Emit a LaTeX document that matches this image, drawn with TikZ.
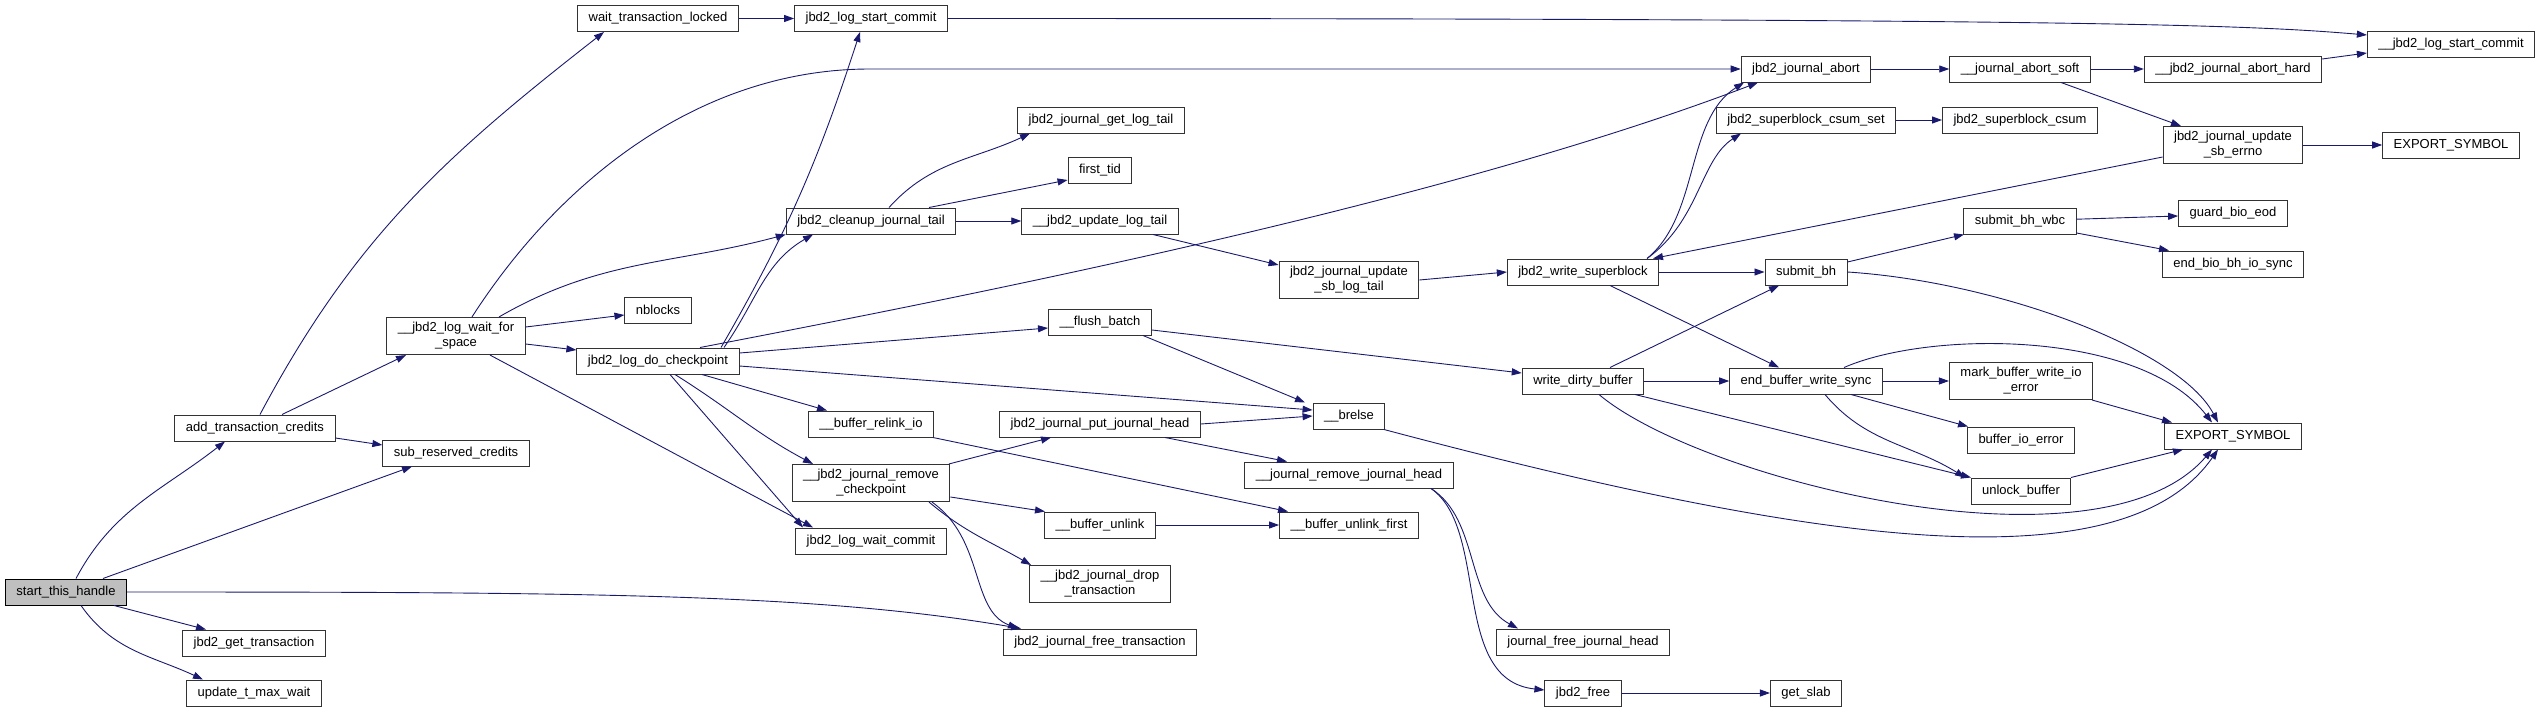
\documentclass[tikz,border=0pt]{standalone}
\usepackage{fontspec}
\setmainfont{Liberation Sans}
\usetikzlibrary{arrows.meta}
\definecolor{edgeblue}{HTML}{191970}

\begin{document}
\begin{tikzpicture}[
x=1pt, y=1pt,
every node/.style={
draw=black!80,
line width=1pt,
fill=white,
align=center,
inner xsep=11pt,
inner ysep=5pt,
minimum height=26pt,
font=\fontsize{13}{15}\selectfont
},
root/.style={fill=black!25, draw=black},
>={Triangle[length=10pt,width=7pt]},
call/.style={->, draw=edgeblue, line width=0.9pt}
]

\useasboundingbox (0,0) rectangle (2540,-712);

\node[root] (Sth) at (66,-592) {start\_this\_handle};

\node (Atc) at (255,-428) {add\_transaction\_credits};
\node (Gtr) at (254,-643) {jbd2\_get\_transaction};
\node (Utm) at (254,-693) {update\_t\_max\_wait};

\node (Wfs) at (456,-336) {\_\_jbd2\_log\_wait\_for\\\_space};
\node (Src) at (456,-453) {sub\_reserved\_credits};

\node (Wtl) at (658,-18.5) {wait\_transaction\_locked};
\node (Nbl) at (658,-310) {nblocks};
\node (Dck) at (658,-361) {jbd2\_log\_do\_checkpoint};

\node (Lsc) at (871,-18.5) {jbd2\_log\_start\_commit};
\node (Cjt) at (871,-221) {jbd2\_cleanup\_journal\_tail};
\node (Rio) at (871,-424) {\_\_buffer\_relink\_io};
\node (Rck) at (871,-483) {\_\_jbd2\_journal\_remove\\\_checkpoint};
\node (Lwc) at (871,-541) {jbd2\_log\_wait\_commit};

\node (Glt) at (1101,-120) {jbd2\_journal\_get\_log\_tail};
\node (Ftd) at (1100,-170) {first\_tid};
\node (Ult) at (1100,-221) {\_\_jbd2\_update\_log\_tail};
\node (Fb) at (1100,-322) {\_\_flush\_batch};
\node (Pjh) at (1100,-424) {jbd2\_journal\_put\_journal\_head};
\node (Bu) at (1100,-525) {\_\_buffer\_unlink};
\node (Dtr) at (1100,-584) {\_\_jbd2\_journal\_drop\\\_transaction};
\node (Ftr) at (1100,-642) {jbd2\_journal\_free\_transaction};

\node (Usl) at (1349,-280) {jbd2\_journal\_update\\\_sb\_log\_tail};
\node (Br) at (1349,-416) {\_\_brelse};
\node (Rjh) at (1349,-475) {\_\_journal\_remove\_journal\_head};
\node (Buf) at (1349,-525) {\_\_buffer\_unlink\_first};

\node (Ws) at (1583,-272) {jbd2\_write\_superblock};
\node (Wdb) at (1583,-381) {write\_dirty\_buffer};
\node (Fjh) at (1583,-642) {journal\_free\_journal\_head};
\node (Jf) at (1583,-693) {jbd2\_free};

\node (Ab) at (1806,-69) {jbd2\_journal\_abort};
\node (Css) at (1806,-120) {jbd2\_superblock\_csum\_set};
\node (Sb) at (1806,-272) {submit\_bh};
\node (Ebw) at (1806,-381) {end\_buffer\_write\_sync};
\node (Gs) at (1806,-693) {get\_slab};

\node (Ats) at (2020,-69) {\_\_journal\_abort\_soft};
\node (Csm) at (2020,-120) {jbd2\_superblock\_csum};
\node (Sbw) at (2020,-221) {submit\_bh\_wbc};
\node (Mbw) at (2021,-381) {mark\_buffer\_write\_io\\\_error};
\node (Bie) at (2021,-440) {buffer\_io\_error};
\node (Ub) at (2021,-491) {unlock\_buffer};

\node (Ath) at (2233,-69) {\_\_jbd2\_journal\_abort\_hard};
\node (Use) at (2233,-145) {jbd2\_journal\_update\\\_sb\_errno};
\node (Gbe) at (2233,-213) {guard\_bio\_eod};
\node (Ebb) at (2233,-264) {end\_bio\_bh\_io\_sync};
\node (Ex2) at (2233,-436) {EXPORT\_SYMBOL};

\node (Ls2) at (2451,-44) {\_\_jbd2\_log\_start\_commit};
\node (Ex1) at (2451,-145) {EXPORT\_SYMBOL};

\draw[call] ([xshift=10]Sth.north) to[out=62,in=218] ([xshift=-30]Atc.south);
\draw[call] ([xshift=37]Sth.north) -- ([xshift=-44]Src.south);
\draw[call] ([xshift=48]Sth.south) -- ([xshift=-48]Gtr.north);
\draw[call] ([xshift=15]Sth.south) to[out=-55,in=155] ([xshift=-51]Utm.north);
\draw[call] (Sth.east) .. controls (600,-592) and (820,-594) .. ([xshift=-79]Ftr.north);

\draw[call] ([xshift=5]Atc.north) to[out=62,in=218] ([xshift=-54]Wtl.south);
\draw[call] ([xshift=27]Atc.north) -- ([xshift=-50]Wfs.south);
\draw[call] ([yshift=-10]Atc.east) -- ([yshift=8]Src.west);

\draw[call] (Wtl) -- (Lsc);

\draw[call] ([xshift=16]Wfs.north) .. controls (560,-180) and (700,-69) .. (870,-69) -- (Ab.west);
\draw[call] ([xshift=43]Wfs.north) to[out=30,in=195] (Cjt.south west);
\draw[call] ([yshift=9]Wfs.east) -- ([yshift=-5]Nbl.west);
\draw[call] ([yshift=-8]Wfs.east) -- ([yshift=11]Dck.west);
\draw[call] ([xshift=34]Wfs.south) -- ([xshift=-58]Lwc.north);

\draw[call] ([xshift=63]Dck.north) to[out=60,in=-108] ([xshift=-11]Lsc.south);
\draw[call] ([xshift=66]Dck.north) to[out=55,in=-150] ([xshift=-58]Cjt.south);
\draw[call] ([xshift=42]Dck.north) .. controls (1000,-290) and (1450,-200) .. ([xshift=-48]Ab.south);
\draw[call] ([yshift=8]Dck.east) -- ([yshift=-6]Fb.west);
\draw[call] ([yshift=-5]Dck.east) -- ([yshift=6]Br.west);
\draw[call] ([xshift=44]Dck.south) -- ([xshift=-44]Rio.north);
\draw[call] ([xshift=17]Dck.south) to[out=-32,in=152] ([xshift=-58]Rck.north);
\draw[call] ([xshift=12]Dck.south) -- ([xshift=-68]Lwc.north);

\draw[call] ([xshift=18]Cjt.north) to[out=48,in=-155] ([xshift=-71]Glt.south);
\draw[call] ([xshift=58]Cjt.north) -- ([yshift=-10]Ftd.west);
\draw[call] (Cjt) -- (Ult);
\draw[call] ([xshift=53]Ult.south) -- ([yshift=15]Usl.west);
\draw[call] (Usl.east) -- (Ws.west);

\draw[call] ([xshift=64]Ws.north) .. controls (1700,-215) and (1685,-120) .. ([xshift=-62]Ab.south);
\draw[call] ([xshift=64]Ws.north) .. controls (1700,-220) and (1700,-160) .. ([xshift=-65]Css.south);
\draw[call] (Ws) -- (Sb);
\draw[call] ([xshift=27]Ws.south) -- ([xshift=-27]Ebw.north);

\draw[call] ([yshift=-8]Fb.east) -- ([yshift=8]Wdb.west);
\draw[call] ([xshift=43]Fb.south) -- ([xshift=-44]Br.north);

\draw[call] ([xshift=27]Wdb.north) -- ([xshift=-27]Sb.south);
\draw[call] (Wdb) -- (Ebw);
\draw[call] ([xshift=52]Wdb.south) -- ([xshift=-50]Ub.north);
\draw[call] ([xshift=16]Wdb.south) .. controls (1700,-480) and (2100,-580) .. ([xshift=-21]Ex2.south);

\draw[call] ([yshift=10]Sb.east) -- ([xshift=-56]Sbw.south);
\draw[call] (Sb.east) .. controls (2000,-282) and (2180,-350) .. ([xshift=-15]Ex2.north);
\draw[call] (Sbw) -- ([yshift=-3]Gbe.west);
\draw[call] ([yshift=-12]Sbw.east) -- ([xshift=-64]Ebb.north);

\draw[call] (Ebw) -- (Mbw);
\draw[call] ([xshift=45]Ebw.south) -- ([xshift=-53]Bie.north);
\draw[call] ([xshift=19]Ebw.south) to[out=-50,in=148] ([xshift=-56]Ub.north);
\draw[call] ([xshift=38]Ebw.north) .. controls (1930,-330) and (2140,-330) .. ([xshift=-21]Ex2.north);
\draw[call] ([xshift=71]Mbw.south) -- ([xshift=-61]Ex2.north);
\draw[call] ([xshift=50]Ub.north) -- ([xshift=-50]Ex2.south);

\draw[call] ([xshift=35]Br.south) .. controls (1800,-540) and (2120,-590) .. ([xshift=-15]Ex2.south);

\draw[call] (Ab) -- (Ats);
\draw[call] (Ats) -- (Ath);
\draw[call] ([xshift=41]Ats.south) -- ([xshift=-52]Use.north);
\draw[call] ([yshift=10]Ath.east) -- ([yshift=-9]Ls2.west);
\draw[call] (Lsc.east) .. controls (2100,-18.5) and (2250,-25) .. ([yshift=9]Ls2.west);
\draw[call] (Use) -- (Ex1);
\draw[call] ([yshift=-12]Use.west) -- ([xshift=70]Ws.north);
\draw[call] (Css) -- (Csm);

\draw[call] (Pjh.east) -- (Br.west);
\draw[call] ([xshift=65]Pjh.south) -- ([xshift=-62]Rjh.north);
\draw[call] ([xshift=78]Rck.north) -- ([xshift=-49]Pjh.south);
\draw[call] ([yshift=-14]Rck.east) -- ([xshift=-55]Bu.north);
\draw[call] ([xshift=58]Rck.south) to[out=-40,in=150] ([xshift=-69]Dtr.north);
\draw[call] ([xshift=61]Rck.south) .. controls (985,-540) and (970,-610) .. ([xshift=-82]Ftr.north);
\draw[call] ([xshift=62]Rio.south) -- ([xshift=-61]Buf.north);
\draw[call] (Bu) -- (Buf);

\draw[call] ([xshift=82]Rjh.south) .. controls (1480,-520) and (1465,-600) .. ([xshift=-65]Fjh.north);
\draw[call] ([xshift=82]Rjh.south) .. controls (1490,-530) and (1450,-680) .. ([yshift=3]Jf.west);
\draw[call] (Jf) -- (Gs);

\end{tikzpicture}
\end{document}
